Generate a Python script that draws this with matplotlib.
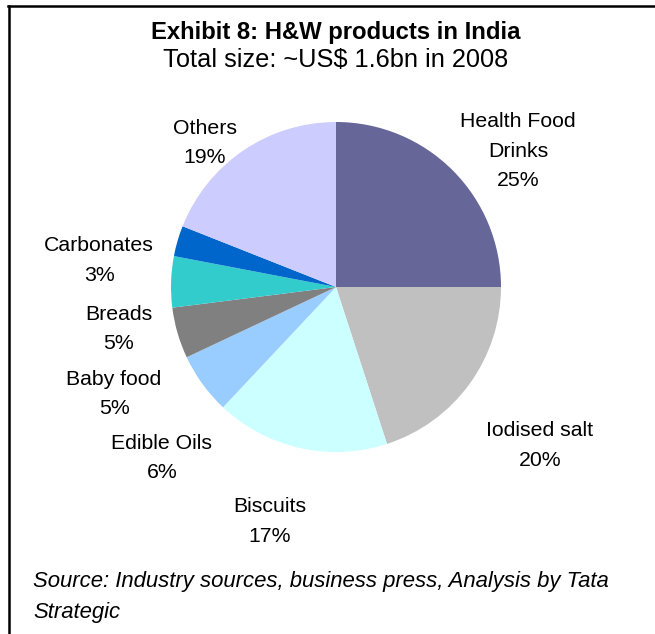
import matplotlib
matplotlib.use("Agg")
import matplotlib.pyplot as plt
from matplotlib.lines import Line2D

plt.rcParams['font.family'] = ['Liberation Sans', 'DejaVu Sans']

categories = ["Health Food\nDrinks", "Iodised salt", "Biscuits", "Edible Oils",
              "Baby food", "Breads", "Carbonates", "Others"]
shares = [25, 20, 17, 6, 5, 5, 3, 19]
colors = ["#666699", "#C0C0C0", "#CCFFFF", "#99CCFF",
          "#808080", "#33CCCC", "#0066CC", "#CCCCFF"]
# label centres in pie-data units (radius = 1)
label_pos = [(1.103, 0.824), (1.236, -0.961), (-0.40, -1.421), (-1.055, -1.036),
             (-1.345, -0.648), (-1.315, -0.255), (-1.436, 0.161), (-0.794, 0.873)]

W, H = 655, 634
fig = plt.figure(figsize=(W / 100, H / 100), dpi=100)

cx, cy, r = 336, 287, 165
ax = fig.add_axes([(cx - r) / W, (H - cy - r) / H, 2 * r / W, 2 * r / H])
wedges, _ = ax.pie(shares, colors=colors, startangle=90, counterclock=False,
                   radius=1, wedgeprops=dict(linewidth=0))
ax.set_xlim(-1, 1)
ax.set_ylim(-1, 1)
ax.set_aspect('equal')
ax.axis('off')

for name, val, (x, y) in zip(categories, shares, label_pos):
    ax.text(x, y, f"{name}\n{val}%", ha='center', va='center', fontsize=15.3,
            linespacing=1.68, clip_on=False)

fig.text(336 / W, 1 - 33 / H, "Exhibit 8: H&W products in India", ha='center',
         va='center', fontsize=17.2, fontweight='bold')
fig.text(336 / W, 1 - 60 / H, "Total size: ~US$ 1.6bn in 2008", ha='center',
         va='center', fontsize=18.3)
fig.text(33 / W, 1 - 597 / H,
         "Source: Industry sources, business press, Analysis by Tata\nStrategic",
         ha='left', va='center', fontsize=15.9, style='italic', linespacing=1.62)

fig.add_artist(Line2D([8 / W, 1], [1 - 6 / H, 1 - 6 / H], color='black', lw=1.8,
                      transform=fig.transFigure))
fig.add_artist(Line2D([8.5 / W, 8.5 / W], [0, 1 - 6 / H], color='black', lw=1.8,
                      transform=fig.transFigure))

fig.savefig("out.png", dpi=100)
